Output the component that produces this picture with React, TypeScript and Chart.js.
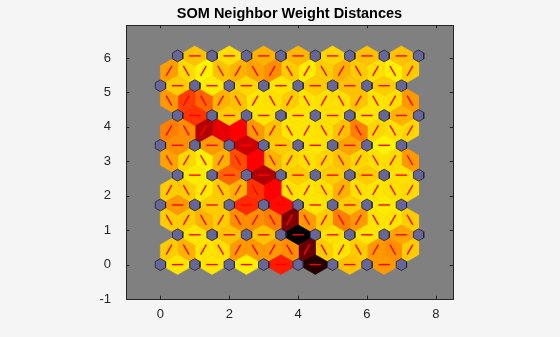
import { useEffect, useRef } from 'react';
import { Chart, registerables } from 'chart.js';

Chart.register(...registerables);

const TITLE = 'SOM Neighbor Weight Distances';
const MAP_COLS = 8;
const MAP_ROWS = 8;
const X_TICKS = [0, 2, 4, 6, 8];
const Y_TICKS = [-1, 0, 1, 2, 3, 4, 5, 6];
const X_MIN = -1;
const X_MAX = 8.5;
const Y_MIN = -1;
const Y_MAX = 6.96;

// Normalised neighbour weight distances (0 = closest / yellow, 1 = farthest / black)
// Horizontal neighbour pairs, one list per neuron row (bottom row first), left to right
const H_ROW_0 = [0.05, 0.05, 0.03, 0.45, 0.93, 0.12, 0.2];
const H_ROW_1 = [0.05, 0.12, 0.12, 1.0, 0.06, 0.05, 0.18];
const H_ROW_2 = [0.2, 0.1, 0.42, 0.48, 0.05, 0.1, 0.04];
const H_ROW_3 = [0.04, 0.3, 0.65, 0.1, 0.1, 0.1, 0.06];
const H_ROW_4 = [0.22, 0.2, 0.6, 0.1, 0.05, 0.18, 0.02];
const H_ROW_5 = [0.4, 0.1, 0.05, 0.05, 0.06, 0.05, 0.15];
const H_ROW_6 = [0.1, 0.04, 0.08, 0.05, 0.1, 0.12, 0.1];
const H_ROW_7 = [0.12, 0.06, 0.15, 0.14, 0.08, 0.12, 0.12];

// Diagonal neighbour pairs between row j and row j+1, left to right
const D_ROW_0 = [0.1, 0.15, 0.05, 0.06, 0.2, 0.2, 0.2, 0.22, 0.8, 0.1, 0.05, 0.1, 0.2, 0.22, 0.1];
const D_ROW_1 = [0.1, 0.1, 0.15, 0.1, 0.22, 0.22, 0.25, 0.75, 0.2, 0.1, 0.25, 0.2, 0.05, 0.05, 0.1];
const D_ROW_2 = [0.1, 0.1, 0.04, 0.1, 0.15, 0.4, 0.5, 0.06, 0.05, 0.06, 0.15, 0.06, 0.05, 0.06, 0.07];
const D_ROW_3 = [0.18, 0.08, 0.03, 0.15, 0.35, 0.5, 0.15, 0.08, 0.06, 0.08, 0.12, 0.08, 0.06, 0.07, 0.2];
const D_ROW_4 = [0.25, 0.22, 0.65, 0.55, 0.5, 0.2, 0.12, 0.05, 0.05, 0.06, 0.12, 0.25, 0.08, 0.06, 0.08];
const D_ROW_5 = [0.2, 0.38, 0.3, 0.15, 0.12, 0.05, 0.06, 0.1, 0.05, 0.06, 0.06, 0.12, 0.05, 0.06, 0.2];
const D_ROW_6 = [0.19, 0.07, 0.02, 0.12, 0.15, 0.18, 0.22, 0.1, 0.04, 0.1, 0.15, 0.1, 0.06, 0.03, 0.1];

const H_ROWS = [H_ROW_0, H_ROW_1, H_ROW_2, H_ROW_3, H_ROW_4, H_ROW_5, H_ROW_6, H_ROW_7];
const D_ROWS = [D_ROW_0, D_ROW_1, D_ROW_2, D_ROW_3, D_ROW_4, D_ROW_5, D_ROW_6];

const PAGE_BG = '#f5f5f5';
const AXES_BG = '#808080';
const AXIS_COLOR = '#262626';
const NEURON_COLOR = 'rgb(102,102,153)';
const FONT = '"Liberation Sans", Arial, Helvetica, sans-serif';

const SQ = Math.sqrt(0.75);
// neuron patch (hexagon) offsets, as in hextop patches scaled by 0.3
const SHAPE_X = [-1, 0, 1, 1, 0, -1].map((v) => v * 0.5 * 0.3);
const SHAPE_Y = [1, 2, 1, -1, -2, -1].map((v) => (v * SQ) / 3 * 0.3);

type P = { x: number; y: number };

function neuronPos(i: number, j: number): P {
  return { x: i + 0.5 * (j % 2), y: j * SQ };
}

function distColor(d: number): string {
  const level = 1 - d;
  const r = Math.min(level * 2, 1);
  const g = Math.max(level * 2 - 1, 0);
  return `rgb(${Math.round(r * 255)},${Math.round(g * 255)},0)`;
}

function buildPairs(): { a: P; b: P; d: number }[] {
  const pairs: { a: P; b: P; d: number }[] = [];
  for (let j = 0; j < MAP_ROWS; j++) {
    for (let i = 0; i < MAP_COLS - 1; i++) {
      pairs.push({ a: neuronPos(i, j), b: neuronPos(i + 1, j), d: H_ROWS[j][i] });
    }
  }
  for (let j = 0; j < MAP_ROWS - 1; j++) {
    const vals = D_ROWS[j];
    for (let m = 0; m < vals.length; m++) {
      let a: P;
      let b: P;
      if (j % 2 === 0) {
        if (m % 2 === 0) {
          const i = m / 2;
          a = neuronPos(i, j);
          b = neuronPos(i, j + 1);
        } else {
          const i = (m + 1) / 2;
          a = neuronPos(i, j);
          b = neuronPos(i - 1, j + 1);
        }
      } else {
        if (m % 2 === 0) {
          const i = m / 2;
          a = neuronPos(i, j);
          b = neuronPos(i, j + 1);
        } else {
          const i = (m - 1) / 2;
          a = neuronPos(i, j);
          b = neuronPos(i + 1, j + 1);
        }
      }
      pairs.push({ a, b, d: vals[m] });
    }
  }
  return pairs;
}

function buildDatasets(): any[] {
  const sets: any[] = [];
  const pairs = buildPairs();
  const off = SQ / 3; // edge midpoint to triangle centroid
  for (const { a, b, d } of pairs) {
    const dx = b.x - a.x;
    const dy = b.y - a.y;
    const len = Math.hypot(dx, dy);
    const nx = -dy / len;
    const ny = dx / len;
    const mx = (a.x + b.x) / 2;
    const my = (a.y + b.y) / 2;
    const col = distColor(d);
    sets.push({
      data: [
        { x: a.x, y: a.y },
        { x: mx + nx * off, y: my + ny * off },
        { x: b.x, y: b.y },
        { x: mx - nx * off, y: my - ny * off },
        { x: a.x, y: a.y },
      ],
      showLine: true,
      fill: 'shape',
      backgroundColor: col,
      borderColor: col,
      borderWidth: 0.6,
      pointRadius: 0,
      order: 3,
    });
    sets.push({
      data: [
        { x: (2 * a.x + b.x) / 3, y: (2 * a.y + b.y) / 3 },
        { x: (a.x + 2 * b.x) / 3, y: (a.y + 2 * b.y) / 3 },
      ],
      showLine: true,
      fill: false,
      borderColor: '#ff0000',
      borderWidth: 1.4,
      pointRadius: 0,
      order: 2,
    });
  }
  for (let j = 0; j < MAP_ROWS; j++) {
    for (let i = 0; i < MAP_COLS; i++) {
      const p = neuronPos(i, j);
      const pts = SHAPE_X.map((sx, k) => ({ x: p.x + sx, y: p.y + SHAPE_Y[k] }));
      pts.push(pts[0]);
      sets.push({
        data: pts,
        showLine: true,
        fill: 'shape',
        backgroundColor: NEURON_COLOR,
        borderColor: 'rgba(35,35,45,0.9)',
        borderWidth: 0.9,
        pointRadius: 0,
        order: 1,
      });
    }
  }
  return sets;
}

const framePlugin = {
  id: 'somFrame',
  beforeDraw(chart: any) {
    const { ctx, chartArea: a, width, height } = chart;
    ctx.save();
    ctx.fillStyle = PAGE_BG;
    ctx.fillRect(0, 0, width, height);
    ctx.fillStyle = AXES_BG;
    ctx.fillRect(a.left, a.top, a.right - a.left, a.bottom - a.top);
    ctx.restore();
  },
  afterDraw(chart: any) {
    const { ctx, chartArea: a, scales } = chart;
    const tl = 3.3;
    ctx.save();
    ctx.strokeStyle = AXIS_COLOR;
    ctx.lineWidth = 1;
    ctx.beginPath();
    for (const v of X_TICKS) {
      const px = Math.round(scales.x.getPixelForValue(v)) + 0.5;
      ctx.moveTo(px, a.bottom);
      ctx.lineTo(px, a.bottom - tl);
      ctx.moveTo(px, a.top);
      ctx.lineTo(px, a.top + tl);
    }
    for (const v of Y_TICKS) {
      const py = Math.round(scales.y.getPixelForValue(v)) + 0.5;
      ctx.moveTo(a.left, py);
      ctx.lineTo(a.left + tl, py);
      ctx.moveTo(a.right, py);
      ctx.lineTo(a.right - tl, py);
    }
    ctx.stroke();
    ctx.strokeRect(Math.round(a.left) + 0.5, Math.round(a.top) + 0.5, Math.round(a.right - a.left), Math.round(a.bottom - a.top));
    ctx.restore();
  },
};

export default function App() {
  const ref = useRef<HTMLCanvasElement>(null);
  useEffect(() => {
    const canvas = ref.current;
    if (!canvas) return;
    const chart = new Chart(canvas, {
      type: 'scatter',
      data: { datasets: buildDatasets() },
      options: {
        responsive: false,
        animation: false,
        events: [],
        layout: { padding: { left: 86, right: 107, top: 0, bottom: 0 } },
        plugins: {
          legend: { display: false },
          tooltip: { enabled: false },
          title: {
            display: true,
            text: TITLE,
            fullSize: false,
            color: '#000000',
            font: { family: FONT, size: 14.5, weight: 'bold' },
            padding: { top: 5, bottom: 2.6 },
          },
        },
        scales: {
          x: {
            type: 'linear',
            min: X_MIN,
            max: X_MAX,
            grid: { display: false },
            border: { display: false },
            afterBuildTicks: (s: any) => {
              s.ticks = X_TICKS.map((v) => ({ value: v }));
            },
            afterFit: (s: any) => {
              s.height = 38;
            },
            ticks: {
              autoSkip: false,
              maxRotation: 0,
              padding: 0,
              color: AXIS_COLOR,
              font: { family: FONT, size: 13 },
            },
          },
          y: {
            type: 'linear',
            min: Y_MIN,
            max: Y_MAX,
            grid: { display: false },
            border: { display: false },
            afterBuildTicks: (s: any) => {
              s.ticks = Y_TICKS.map((v) => ({ value: v }));
            },
            afterFit: (s: any) => {
              s.width = 40;
            },
            ticks: {
              autoSkip: false,
              padding: 7,
              color: AXIS_COLOR,
              font: { family: FONT, size: 13 },
            },
          },
        },
      } as any,
      plugins: [framePlugin],
    });
    return () => chart.destroy();
  }, []);
  return (
    <div style={{ position: 'fixed', left: 0, top: 0, width: 560, height: 337, background: PAGE_BG }}>
      <canvas ref={ref} width={560} height={337} style={{ display: 'block', width: 560, height: 337 }} />
    </div>
  );
}
